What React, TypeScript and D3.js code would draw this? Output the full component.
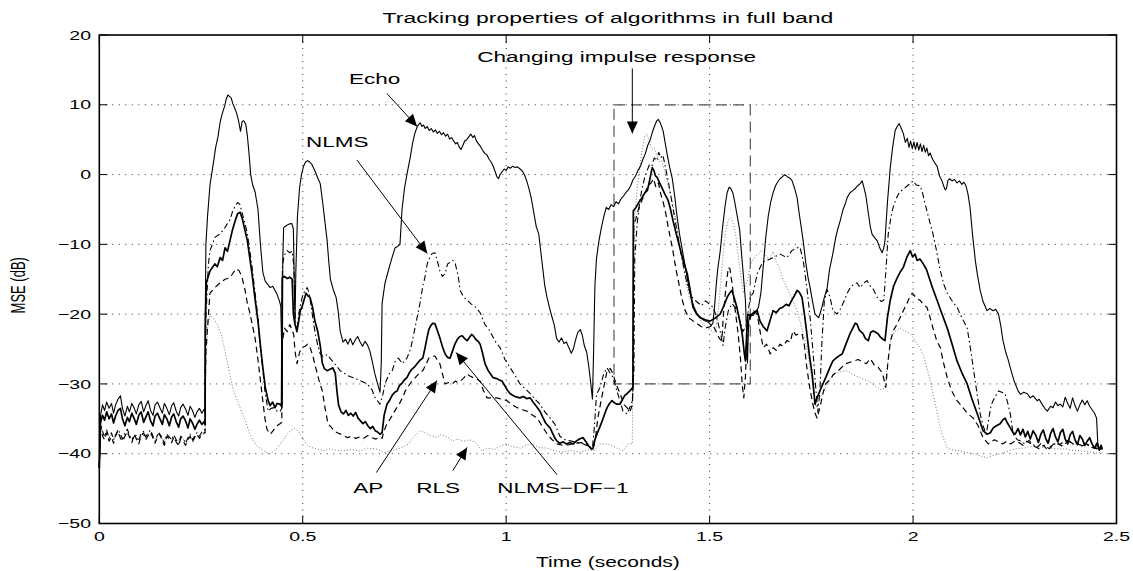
import React from "react";
import * as d3 from "d3";

// ---- Axis settings ----
const xTicks = [0, 0.5, 1, 1.5, 2, 2.5];
const xTickLabels = ["0", "0.5", "1", "1.5", "2", "2.5"];
const yTicks = [-50, -40, -30, -20, -10, 0, 10, 20];
const yTickLabels = ["−50", "−40", "−30", "−20", "−10", "0", "10", "20"];

// ---- Opening segment (shared time base, seconds) ----
const startTime = [0, 0.003, 0.008, 0.013, 0.018, 0.024, 0.03, 0.035, 0.04, 0.046, 0.052, 0.057, 0.063, 0.069, 0.074, 0.08, 0.086, 0.091, 0.097, 0.103, 0.109, 0.114, 0.12, 0.126, 0.132, 0.137, 0.143, 0.149, 0.155, 0.16, 0.166, 0.172, 0.178, 0.183, 0.189, 0.195, 0.2, 0.206, 0.212, 0.218, 0.223, 0.229, 0.235, 0.24, 0.246, 0.252, 0.258];
const echoStart = [-42, -34.5, -33, -33.8, -32.6, -33.5, -32.8, -34.2, -33, -32.2, -31.7, -33.5, -34.6, -33.2, -34, -32.8, -33.5, -34.3, -33, -32.5, -34, -33.2, -32.4, -33.8, -34.5, -33, -32.6, -33.4, -34.2, -32.8, -33.5, -34.4, -33.1, -32.7, -33.9, -34.6, -33.4, -32.9, -33.6, -34.5, -33.2, -33.8, -34.8, -34, -33.5, -34.2, -33.6];
const dfStart = [-42, -35.5, -34.5, -35.2, -34, -35, -34.3, -35.6, -34.6, -33.8, -33.5, -35, -36, -34.8, -35.4, -34.2, -35, -35.8, -34.5, -34, -35.5, -34.8, -34, -35.3, -36, -34.6, -34.2, -35, -35.8, -34.4, -35, -36, -34.7, -34.3, -35.4, -36.2, -35, -34.6, -35.3, -36.3, -35, -35.6, -36.5, -35.8, -35.2, -35.8, -35.4];
const apStart = [-42, -36, -37.5, -38, -37, -38.2, -37.6, -38.5, -37.3, -36.8, -37.8, -38.2, -37.5, -36.8, -37.6, -38.4, -37.2, -37.9, -38.6, -37.4, -37, -38, -37.4, -36.9, -37.8, -38.5, -37.6, -37.2, -38.2, -38.8, -37.5, -37.9, -38.4, -37.6, -38.3, -38.9, -37.8, -38.2, -38.8, -38, -37.5, -38.3, -37.6, -37.2, -37.8, -37.2, -37];
const nlmsStart = [-42, -35.5, -36.8, -37.6, -36.6, -37.8, -37, -38, -37.5, -36.5, -37.2, -37.9, -37, -36.5, -37.3, -38, -37.5, -37.4, -38.2, -37, -36.8, -37.6, -37, -36.6, -37.5, -38.2, -37.3, -37, -37.8, -38.5, -37.2, -37.6, -38, -37.3, -38, -38.6, -37.5, -37.8, -38.5, -37.7, -37.2, -38, -37.4, -37, -37.5, -36.9, -36.6];
const rlsStart = [-42, -36, -37, -37.4, -37.1, -37.5, -37.3, -37.8, -37.5, -37.2, -37.4, -37.7, -37.5, -37.2, -37.5, -37.9, -37.6, -37.7, -38, -37.6, -37.4, -37.7, -37.5, -37.3, -37.6, -37.9, -37.6, -37.4, -37.8, -38, -37.6, -37.7, -37.9, -37.6, -37.9, -38.1, -37.8, -37.9, -38.2, -37.9, -37.7, -37.9, -37.6, -37.4, -37.6, -37.3, -37.2];

// ---- Remainder of each curve: [time (s), MSE (dB)] ----
const echoRest: [number, number][] = [
  [0.26, -33.8], [0.2605, -20], [0.262, -10], [0.266, -6], [0.272, -1.5], [0.28, 1.5], [0.286, 3.9], [0.292, 5.5], [0.297, 7.5], [0.302, 8.7], [0.308, 9.8], [0.312, 10.8], [0.316, 11.4], [0.32, 11.2], [0.324, 11], [0.328, 10.2], [0.333, 9.5], [0.338, 8.7], [0.343, 7.5], [0.347, 6.2], [0.351, 7.6], [0.355, 7.7], [0.36, 7.2], [0.364, 5.5], [0.368, 3], [0.372, 0], [0.377, -1.5], [0.383, -2.5], [0.39, -5], [0.396, -10], [0.402, -14], [0.408, -15.3], [0.415, -15.8], [0.42, -16.2], [0.426, -16], [0.432, -16.6], [0.437, -17.2], [0.442, -18], [0.446, -18.8], [0.448, -24], [0.4495, -33], [0.451, -12], [0.453, -7.6], [0.46, -7.3], [0.466, -7.1], [0.473, -7], [0.477, -7.8], [0.479, -15], [0.481, -21], [0.483, -14], [0.487, -6], [0.492, -2], [0.497, 0], [0.502, 1.2], [0.507, 1.8], [0.512, 2], [0.517, 1.8], [0.522, 1.5], [0.53, 0.5], [0.537, -0.5], [0.543, -1.3], [0.549, -4], [0.555, -7], [0.56, -9.5], [0.564, -12.5], [0.568, -15], [0.575, -16.5], [0.582, -17.6], [0.587, -19.5], [0.592, -22.4], [0.599, -24], [0.605, -23.6], [0.611, -24.3], [0.617, -23.5], [0.623, -24.4], [0.629, -23.7], [0.635, -23.2], [0.641, -24], [0.647, -24.6], [0.653, -23.9], [0.659, -24.4], [0.665, -25.3], [0.671, -26.8], [0.677, -28.5], [0.684, -30], [0.69, -31.2], [0.693, -27], [0.695, -18.5], [0.702, -15.6], [0.707, -14.5], [0.715, -12.8], [0.72, -11.8], [0.727, -10.5], [0.733, -10.3], [0.739, -10], [0.744, -5], [0.75, -2], [0.756, 0], [0.764, 2.4], [0.77, 4.5], [0.776, 6], [0.781, 6.8], [0.785, 7.2], [0.789, 7.4], [0.793, 6.9], [0.797, 7.1], [0.801, 6.6], [0.806, 6.9], [0.811, 6.3], [0.816, 6.6], [0.821, 6.1], [0.826, 6.4], [0.831, 5.9], [0.836, 6.2], [0.841, 5.7], [0.846, 6], [0.851, 5.5], [0.856, 5.8], [0.861, 5.1], [0.866, 5.3], [0.871, 4.8], [0.876, 4.4], [0.88, 4.6], [0.885, 3.9], [0.889, 3.6], [0.893, 4.1], [0.898, 4.8], [0.903, 5], [0.908, 5.4], [0.913, 5.8], [0.918, 5.3], [0.922, 5.6], [0.927, 4.8], [0.932, 4.4], [0.937, 4], [0.943, 3.4], [0.948, 3], [0.953, 2.8], [0.958, 2.2], [0.963, 1.8], [0.968, 1.2], [0.973, 0.4], [0.977, -0.3], [0.981, -0.6], [0.985, 0], [0.99, 0.4], [0.995, 0.8], [1.0, 0.6], [1.005, 1.1], [1.01, 0.9], [1.016, 1.2], [1.022, 1], [1.028, 1.1], [1.034, 0.8], [1.04, 0.5], [1.046, -0.2], [1.051, -1], [1.056, -2], [1.062, -3.5], [1.068, -5.5], [1.074, -7.5], [1.08, -8.5], [1.085, -11], [1.09, -13.5], [1.095, -16], [1.1, -17.5], [1.106, -19], [1.112, -20.3], [1.118, -21.5], [1.124, -23.5], [1.13, -24], [1.136, -23.4], [1.142, -24.2], [1.148, -24], [1.154, -24.8], [1.16, -25.6], [1.165, -25], [1.17, -23.8], [1.176, -22.6], [1.182, -22.2], [1.187, -23], [1.192, -24.5], [1.198, -25.5], [1.203, -27.5], [1.208, -30], [1.212, -32.2], [1.215, -25], [1.218, -16], [1.222, -12], [1.228, -9.5], [1.234, -7.6], [1.24, -6], [1.246, -4.7], [1.252, -5], [1.258, -4.3], [1.264, -4.6], [1.27, -3.9], [1.276, -4.2], [1.282, -3.5], [1.288, -3.1], [1.294, -2.6], [1.3, -2.2], [1.306, -1.6], [1.312, -0.7], [1.318, -0.2], [1.324, 0.6], [1.33, 1.2], [1.336, 2.2], [1.342, 3], [1.348, 4.2], [1.354, 5], [1.36, 6.2], [1.365, 7], [1.37, 7.7], [1.374, 7.9], [1.378, 7.5], [1.382, 6.9], [1.386, 6.2], [1.39, 4.8], [1.396, 2.8], [1.402, 1], [1.408, -0.5], [1.414, -3], [1.42, -6], [1.426, -8.5], [1.432, -10.5], [1.438, -12.5], [1.444, -14.5], [1.45, -16.5], [1.456, -18], [1.462, -19], [1.468, -19.8], [1.474, -20.3], [1.48, -20.6], [1.486, -20.9], [1.492, -21], [1.498, -21.2], [1.504, -21.6], [1.508, -21.3], [1.512, -19], [1.516, -16], [1.52, -13.5], [1.526, -11], [1.532, -7.5], [1.538, -4.5], [1.543, -2.6], [1.548, -1.8], [1.552, -2], [1.557, -2.6], [1.562, -4], [1.568, -6], [1.574, -8], [1.578, -11], [1.583, -14.5], [1.588, -18], [1.591, -23], [1.593, -27], [1.596, -21], [1.6, -20], [1.607, -20.2], [1.614, -19.6], [1.62, -19], [1.626, -17], [1.632, -13], [1.638, -9], [1.644, -6], [1.65, -4], [1.656, -2.6], [1.662, -1.6], [1.668, -1], [1.673, -0.6], [1.679, -0.3], [1.685, 0], [1.691, -0.3], [1.697, -0.5], [1.702, -0.8], [1.709, -2], [1.715, -3.3], [1.72, -5.5], [1.725, -7.5], [1.73, -9.5], [1.736, -12.5], [1.742, -14.8], [1.747, -16.2], [1.753, -18.2], [1.759, -20], [1.764, -20.3], [1.768, -20.5], [1.772, -19.8], [1.776, -19], [1.782, -17.6], [1.789, -16.2], [1.795, -13.5], [1.803, -11.3], [1.81, -9], [1.815, -7.8], [1.821, -6.6], [1.828, -5], [1.834, -4.1], [1.838, -3.3], [1.845, -2.6], [1.852, -2.3], [1.858, -2], [1.864, -1.6], [1.87, -1.3], [1.875, -0.9], [1.879, -1.8], [1.884, -3], [1.89, -5.5], [1.895, -7.5], [1.899, -8.5], [1.905, -9], [1.912, -9.5], [1.918, -10.5], [1.924, -11.2], [1.928, -10.5], [1.931, -9.5], [1.937, -4], [1.944, 1], [1.95, 4], [1.956, 6.3], [1.962, 7], [1.966, 7.3], [1.971, 6.6], [1.976, 5.9], [1.981, 4.6], [1.986, 5.2], [1.99, 3.9], [1.994, 4.8], [1.998, 3.7], [2.002, 4.7], [2.006, 3.6], [2.01, 4.6], [2.014, 3.5], [2.018, 4.4], [2.022, 3.3], [2.026, 4.2], [2.03, 3.2], [2.034, 3.8], [2.038, 2.7], [2.042, 3.1], [2.048, 2.2], [2.054, 1.6], [2.059, 1.2], [2.065, -0.2], [2.071, -0.9], [2.075, -1.6], [2.079, -2.2], [2.082, -2], [2.086, -0.8], [2.09, -0.6], [2.096, -0.9], [2.102, -0.7], [2.108, -1.2], [2.114, -0.9], [2.12, -1.4], [2.125, -1.1], [2.13, -1.6], [2.135, -2.8], [2.14, -4.7], [2.146, -8.5], [2.153, -12.3], [2.158, -14.3], [2.165, -16.6], [2.172, -18.2], [2.182, -19.5], [2.188, -19.2], [2.197, -19.5], [2.203, -19.3], [2.21, -20], [2.216, -21.8], [2.221, -23.8], [2.228, -25.5], [2.234, -26.6], [2.239, -27.7], [2.248, -29.5], [2.258, -31], [2.264, -31.5], [2.272, -31.2], [2.281, -31.4], [2.288, -32], [2.295, -31.7], [2.305, -32.4], [2.31, -32.2], [2.318, -33], [2.325, -33.6], [2.33, -33.9], [2.338, -33.2], [2.344, -33.4], [2.35, -32.6], [2.356, -33.1], [2.362, -32.9], [2.368, -33.3], [2.374, -31.9], [2.38, -32.8], [2.386, -33.5], [2.392, -32], [2.398, -33.1], [2.404, -33.9], [2.41, -33], [2.416, -32.3], [2.422, -33], [2.428, -32.4], [2.434, -33.2], [2.44, -33.7], [2.446, -34.2], [2.451, -34.9], [2.454, -38.5], [2.458, -39.5], [2.462, -39], [2.465, -39.4],
];

const dfRest: [number, number][] = [
  [0.26, -35.8], [0.2605, -22], [0.263, -15.5], [0.272, -13.8], [0.284, -12.8], [0.29, -13.2], [0.297, -11.9], [0.303, -12.3], [0.309, -10.5], [0.315, -11], [0.321, -9.5], [0.327, -8], [0.334, -6.6], [0.34, -5.6], [0.346, -5.4], [0.351, -6.2], [0.358, -8], [0.364, -9.5], [0.37, -12], [0.376, -14.5], [0.382, -17.5], [0.39, -21], [0.396, -24.5], [0.402, -27.7], [0.408, -30.5], [0.415, -32.4], [0.42, -33.1], [0.426, -32.6], [0.432, -33.4], [0.437, -32.8], [0.444, -32.9], [0.448, -33.2], [0.4495, -14.8], [0.455, -14.6], [0.462, -14.9], [0.468, -14.7], [0.474, -15], [0.477, -20], [0.481, -21.5], [0.486, -22.4], [0.49, -21], [0.494, -19.5], [0.498, -19], [0.503, -18], [0.508, -17], [0.513, -17.4], [0.518, -17.6], [0.524, -19], [0.53, -21], [0.537, -22.5], [0.543, -24.5], [0.548, -27], [0.553, -27.8], [0.56, -28.1], [0.567, -27.9], [0.574, -27.7], [0.58, -28.5], [0.584, -31], [0.588, -33], [0.594, -34], [0.6, -34.3], [0.606, -33.8], [0.612, -34.5], [0.618, -34.2], [0.624, -34.6], [0.63, -34.1], [0.636, -34.9], [0.642, -35.3], [0.648, -35.7], [0.654, -35.4], [0.66, -36], [0.666, -36.4], [0.672, -36.1], [0.678, -36.7], [0.684, -36.9], [0.69, -37.2], [0.695, -37], [0.7, -34.5], [0.707, -32.9], [0.714, -32.3], [0.72, -31.6], [0.726, -31.2], [0.732, -31], [0.738, -30.2], [0.744, -29.9], [0.75, -29.4], [0.756, -29.1], [0.762, -28.4], [0.768, -27.9], [0.774, -27.6], [0.781, -27.1], [0.788, -26.6], [0.795, -26.3], [0.8, -25], [0.805, -23.5], [0.81, -22.2], [0.815, -21.6], [0.82, -21.3], [0.825, -21.4], [0.83, -22.2], [0.837, -23.4], [0.843, -24.6], [0.85, -25.7], [0.856, -26.2], [0.862, -26.3], [0.868, -25.3], [0.874, -24.3], [0.88, -23.6], [0.886, -23.2], [0.892, -23.1], [0.898, -23.5], [0.904, -23.8], [0.91, -23.3], [0.915, -22.9], [0.919, -23.1], [0.925, -23.6], [0.931, -23.9], [0.936, -24.3], [0.942, -25.6], [0.948, -27.1], [0.955, -28], [0.962, -28.6], [0.968, -29.1], [0.975, -29.2], [0.982, -29.4], [0.99, -29.6], [0.997, -30.3], [1.003, -30.9], [1.01, -31.4], [1.018, -31.7], [1.026, -31.9], [1.034, -32], [1.042, -31.8], [1.05, -32.1], [1.059, -32], [1.066, -32.6], [1.074, -33.2], [1.083, -33.9], [1.09, -34.8], [1.097, -35.6], [1.103, -36], [1.108, -36.3], [1.115, -37.2], [1.12, -37.8], [1.125, -38.2], [1.132, -38.5], [1.14, -38.3], [1.148, -38.6], [1.156, -38.4], [1.165, -38.6], [1.172, -38.2], [1.18, -37.9], [1.189, -37.7], [1.196, -38.3], [1.203, -38.9], [1.209, -39.3], [1.213, -39.3], [1.218, -38], [1.223, -37.2], [1.23, -36.2], [1.236, -35.3], [1.242, -34.3], [1.248, -33.4], [1.254, -32.8], [1.26, -32.4], [1.266, -32.7], [1.272, -32.9], [1.28, -32.9], [1.286, -32.2], [1.292, -31.6], [1.297, -31.4], [1.304, -31], [1.3115, -30.5], [1.3125, -5.2], [1.318, -4.8], [1.324, -4.2], [1.329, -3.7], [1.335, -3.2], [1.341, -2.6], [1.347, -2.3], [1.352, -1], [1.356, 0.2], [1.359, 1], [1.363, 0.6], [1.367, -0.2], [1.371, -0.4], [1.377, -1.2], [1.383, -1.9], [1.39, -2.8], [1.398, -3.7], [1.404, -5], [1.41, -6.6], [1.418, -8.5], [1.427, -10.5], [1.436, -12.5], [1.445, -14.2], [1.452, -16.5], [1.459, -19], [1.468, -20], [1.477, -20.5], [1.489, -20.8], [1.501, -21], [1.513, -20.6], [1.526, -20], [1.535, -18.8], [1.543, -17.6], [1.549, -17], [1.555, -16.6], [1.561, -17.8], [1.567, -19], [1.574, -21], [1.58, -22.8], [1.585, -25.5], [1.588, -26.7], [1.591, -23], [1.594, -20], [1.6, -20.2], [1.608, -19.8], [1.617, -19.5], [1.624, -21], [1.632, -21.8], [1.641, -22.4], [1.648, -21], [1.656, -19.5], [1.664, -19.8], [1.672, -19.2], [1.68, -19], [1.688, -18.6], [1.695, -18.8], [1.702, -18], [1.708, -17.4], [1.715, -16.6], [1.721, -16.9], [1.727, -17.6], [1.733, -20], [1.739, -22.8], [1.745, -25.8], [1.752, -28.6], [1.756, -31], [1.759, -32.9], [1.764, -32], [1.771, -31], [1.78, -29.8], [1.789, -28.6], [1.796, -27.6], [1.803, -26.7], [1.813, -26.2], [1.82, -25.9], [1.826, -25.7], [1.835, -24.3], [1.845, -22.8], [1.852, -22], [1.858, -21.3], [1.862, -21.4], [1.868, -22.3], [1.877, -22.8], [1.883, -23.5], [1.89, -23.8], [1.896, -22.6], [1.902, -22.4], [1.908, -22.6], [1.914, -22.8], [1.92, -23.3], [1.926, -23.6], [1.931, -23.8], [1.937, -20.5], [1.944, -18], [1.952, -16], [1.961, -14.8], [1.968, -14], [1.976, -13.3], [1.985, -11.8], [1.993, -10.9], [1.999, -11.8], [2.005, -11.4], [2.01, -12.3], [2.017, -12.1], [2.025, -12.8], [2.033, -13.6], [2.042, -15.2], [2.05, -16.6], [2.059, -18], [2.07, -19.8], [2.084, -22], [2.096, -24.3], [2.108, -26.7], [2.12, -28.4], [2.133, -30], [2.145, -32.2], [2.158, -34.3], [2.165, -35.5], [2.172, -36.7], [2.182, -37.2], [2.19, -37], [2.197, -36.3], [2.205, -36], [2.214, -35.7], [2.22, -35.2], [2.226, -34.9], [2.232, -35.6], [2.239, -36.3], [2.246, -37], [2.251, -37.2], [2.258, -36.4], [2.264, -37.3], [2.27, -36.5], [2.276, -37.6], [2.282, -36.8], [2.288, -37.9], [2.295, -36.7], [2.302, -37.4], [2.308, -38.4], [2.314, -37.2], [2.32, -36.6], [2.326, -37.8], [2.332, -38.5], [2.338, -37.1], [2.344, -36.4], [2.35, -37.6], [2.356, -38.3], [2.362, -37], [2.368, -36.5], [2.374, -37.9], [2.38, -38.6], [2.386, -37.3], [2.392, -36.8], [2.398, -38], [2.404, -38.7], [2.41, -37.4], [2.416, -37.9], [2.422, -38.8], [2.428, -38.2], [2.434, -37.7], [2.44, -38.6], [2.446, -39.2], [2.452, -38.5], [2.458, -39.5], [2.462, -38.8], [2.465, -39.3],
];

const apRest: [number, number][] = [
  [0.26, -37], [0.2605, -30], [0.262, -25.3], [0.272, -17], [0.284, -16.2], [0.297, -15.5], [0.309, -15], [0.321, -14.8], [0.33, -14], [0.337, -13.5], [0.344, -13.8], [0.351, -14.8], [0.358, -16.5], [0.364, -18.5], [0.37, -19.8], [0.376, -21.5], [0.383, -23.5], [0.39, -26.5], [0.396, -29.5], [0.402, -32.5], [0.407, -34.9], [0.412, -36.5], [0.42, -37.2], [0.426, -36.8], [0.432, -36.3], [0.437, -36], [0.444, -35.7], [0.4485, -35.5], [0.45, -24], [0.455, -22], [0.462, -22.5], [0.468, -21.5], [0.474, -22.3], [0.478, -23], [0.481, -25.3], [0.486, -27.1], [0.492, -25.5], [0.498, -24.8], [0.506, -24.6], [0.512, -24.3], [0.518, -24.8], [0.525, -26], [0.532, -27.7], [0.54, -29.5], [0.548, -31], [0.555, -33.5], [0.562, -35.7], [0.57, -36.2], [0.577, -36.7], [0.585, -37], [0.593, -37.2], [0.6, -37.4], [0.61, -37.7], [0.62, -37.5], [0.63, -37.8], [0.64, -37.6], [0.65, -37.8], [0.66, -37.4], [0.67, -37.7], [0.68, -37.9], [0.69, -37.6], [0.695, -37.8], [0.7, -36.7], [0.707, -35.7], [0.715, -35], [0.722, -34.3], [0.73, -33.5], [0.737, -32.9], [0.745, -32], [0.752, -31], [0.76, -30.3], [0.768, -29.6], [0.775, -29.2], [0.781, -28.8], [0.788, -28.4], [0.795, -28.1], [0.802, -27.3], [0.81, -26.3], [0.818, -26.1], [0.825, -26], [0.83, -26.5], [0.837, -27.1], [0.843, -28.5], [0.85, -30], [0.858, -29.8], [0.867, -30], [0.875, -29.6], [0.882, -29.8], [0.887, -29.6], [0.895, -29.2], [0.904, -28.6], [0.912, -28.9], [0.919, -29.1], [0.928, -29.3], [0.936, -29.6], [0.943, -30.8], [0.953, -32], [0.965, -32], [0.977, -32], [0.99, -32.2], [1.002, -32.4], [1.015, -33], [1.027, -33.4], [1.04, -33.7], [1.051, -33.9], [1.063, -34.4], [1.076, -34.9], [1.088, -36], [1.101, -37.2], [1.113, -38], [1.125, -38.6], [1.14, -38.8], [1.155, -38.7], [1.17, -38.5], [1.185, -38.4], [1.2, -38.8], [1.21, -39.3], [1.215, -39], [1.22, -37.5], [1.225, -35], [1.23, -33.4], [1.238, -31], [1.248, -28.1], [1.256, -27.8], [1.263, -28.6], [1.27, -30], [1.28, -31.4], [1.29, -33], [1.297, -33.4], [1.304, -34], [1.31, -33], [1.312, -30], [1.3135, -7], [1.318, -6.5], [1.324, -5.2], [1.33, -4.2], [1.337, -3.2], [1.344, -2.2], [1.35, -1.5], [1.356, -1.2], [1.362, -0.6], [1.368, -1.8], [1.374, -1.2], [1.38, -2.8], [1.386, -4], [1.392, -5.5], [1.398, -7.5], [1.404, -9.2], [1.41, -11], [1.417, -13.5], [1.424, -15.5], [1.432, -17.8], [1.44, -19.5], [1.45, -20.6], [1.46, -21], [1.47, -21.4], [1.48, -21.8], [1.49, -22], [1.5, -21.8], [1.508, -21.5], [1.516, -22.5], [1.524, -23.5], [1.53, -23.8], [1.534, -20], [1.54, -16.2], [1.546, -13.3], [1.55, -13.5], [1.556, -16], [1.562, -19], [1.57, -22.8], [1.576, -26.5], [1.58, -30], [1.584, -32], [1.588, -29], [1.592, -22.8], [1.6, -20.5], [1.608, -19.5], [1.617, -20], [1.625, -22.8], [1.632, -24.8], [1.64, -24.3], [1.649, -25.7], [1.656, -24.8], [1.664, -25.2], [1.673, -24.3], [1.68, -24.6], [1.69, -23.8], [1.698, -24], [1.705, -22.4], [1.712, -23], [1.72, -22.8], [1.727, -22.8], [1.733, -24.5], [1.739, -27.7], [1.746, -30.5], [1.752, -32.4], [1.758, -34], [1.764, -34.9], [1.771, -33.4], [1.778, -31.5], [1.785, -30], [1.796, -29.4], [1.805, -28.6], [1.815, -28.2], [1.825, -27.6], [1.835, -27.1], [1.845, -26.9], [1.855, -26.7], [1.865, -26.5], [1.875, -26.8], [1.885, -27.1], [1.895, -26.4], [1.905, -27.3], [1.914, -27.6], [1.925, -28.5], [1.933, -30.5], [1.938, -27], [1.944, -24], [1.951, -22.4], [1.96, -21.5], [1.968, -20.5], [1.976, -19.5], [1.984, -18.6], [1.992, -17.5], [1.998, -17], [2.004, -17.4], [2.01, -17.8], [2.017, -18], [2.025, -18.6], [2.034, -19], [2.042, -20.5], [2.049, -22], [2.058, -23.8], [2.067, -24.8], [2.075, -27], [2.084, -29.1], [2.095, -31], [2.108, -32.4], [2.12, -33.2], [2.133, -34.2], [2.148, -34.9], [2.16, -36], [2.172, -37.7], [2.185, -38.6], [2.19, -38.4], [2.2, -38], [2.21, -38.3], [2.22, -38.6], [2.23, -38.2], [2.24, -38.6], [2.25, -38.2], [2.26, -38.4], [2.27, -38.8], [2.28, -38.2], [2.29, -38.6], [2.3, -39], [2.31, -39.3], [2.32, -38.8], [2.33, -39.4], [2.34, -38.9], [2.35, -38.4], [2.36, -38.7], [2.37, -38.3], [2.38, -38.1], [2.39, -38.5], [2.4, -38.3], [2.41, -38.8], [2.42, -38.5], [2.43, -38.7], [2.44, -39], [2.45, -39.3], [2.46, -39.1], [2.465, -39.4],
];

const nlmsRest: [number, number][] = [
  [0.26, -36.5], [0.2605, -28], [0.262, -20.5], [0.268, -13], [0.272, -10.9], [0.284, -9], [0.297, -8.5], [0.309, -7.6], [0.315, -7], [0.321, -6.5], [0.328, -5.2], [0.334, -4.5], [0.34, -4], [0.346, -4.3], [0.351, -5.5], [0.358, -7], [0.364, -8.5], [0.37, -10.9], [0.376, -13.5], [0.383, -17], [0.39, -20.5], [0.395, -24.3], [0.402, -28], [0.407, -31], [0.415, -33.9], [0.422, -33.5], [0.43, -33.4], [0.437, -33.9], [0.444, -34], [0.4485, -33.5], [0.45, -13], [0.455, -11.5], [0.462, -10.9], [0.468, -11.2], [0.474, -11], [0.478, -13], [0.481, -20], [0.485, -22.8], [0.49, -20], [0.495, -18.5], [0.5, -17.3], [0.506, -16.6], [0.511, -16.2], [0.516, -17], [0.522, -19.5], [0.53, -22.5], [0.537, -24.5], [0.543, -25.7], [0.55, -26.1], [0.56, -25.8], [0.567, -26.3], [0.574, -26.8], [0.584, -27.5], [0.592, -28.1], [0.6, -28.4], [0.61, -28.8], [0.624, -29.1], [0.64, -29.5], [0.658, -30], [0.67, -30.8], [0.678, -32], [0.69, -32.9], [0.697, -31.5], [0.702, -30], [0.712, -28.6], [0.72, -28.1], [0.727, -26.8], [0.735, -26.3], [0.745, -27.1], [0.756, -26.3], [0.765, -25], [0.773, -22.8], [0.781, -20.5], [0.788, -18.5], [0.795, -16], [0.8, -14.8], [0.806, -12.8], [0.812, -11.9], [0.818, -11.3], [0.825, -11.2], [0.83, -12.2], [0.837, -13.8], [0.843, -14.6], [0.85, -14.2], [0.856, -12.8], [0.862, -12.6], [0.869, -12.3], [0.875, -12.8], [0.882, -14.5], [0.887, -16.6], [0.895, -17.5], [0.904, -18], [0.915, -18.6], [0.925, -19], [0.936, -19.8], [0.948, -21.5], [0.96, -22.4], [0.972, -23.8], [0.985, -24.8], [0.997, -26.5], [1.01, -27.7], [1.022, -28.8], [1.034, -30], [1.047, -30.7], [1.059, -31.4], [1.071, -32.2], [1.083, -32.9], [1.095, -34], [1.108, -34.9], [1.12, -35.8], [1.132, -37.5], [1.145, -38], [1.16, -38.2], [1.175, -38.4], [1.19, -38.6], [1.205, -39], [1.212, -39.2], [1.217, -36], [1.222, -31.5], [1.23, -30.6], [1.24, -28.5], [1.248, -27.7], [1.256, -28.5], [1.263, -29.1], [1.272, -31], [1.28, -32.5], [1.287, -33.9], [1.297, -34.3], [1.305, -33.2], [1.31, -32.4], [1.314, -28], [1.316, -12], [1.322, -7], [1.328, -4], [1.334, -2], [1.34, -0.5], [1.346, 0.5], [1.352, 1.4], [1.358, 1.2], [1.364, 2.4], [1.37, 2], [1.375, 3.2], [1.38, 2.4], [1.385, 2.8], [1.39, 1.5], [1.395, 0], [1.4, -1.5], [1.406, -3.5], [1.412, -5.5], [1.418, -7.5], [1.424, -9.5], [1.43, -11.5], [1.437, -13.5], [1.444, -15.5], [1.452, -17], [1.46, -17.8], [1.47, -18.3], [1.48, -18.8], [1.49, -18.1], [1.5, -18.6], [1.508, -19], [1.516, -20.2], [1.526, -22.5], [1.533, -24.5], [1.538, -22], [1.546, -19.5], [1.555, -18.5], [1.565, -19.2], [1.575, -21], [1.582, -22.5], [1.59, -21.6], [1.6, -17.5], [1.607, -17], [1.617, -14.2], [1.63, -12.6], [1.641, -12.3], [1.656, -11.9], [1.673, -11.4], [1.69, -11.9], [1.702, -10.9], [1.715, -10.5], [1.722, -10.4], [1.73, -12.3], [1.739, -16.2], [1.747, -20.5], [1.754, -25.3], [1.76, -30], [1.766, -34], [1.771, -31], [1.776, -24], [1.782, -18], [1.789, -16.5], [1.796, -17.6], [1.803, -19.5], [1.813, -20], [1.821, -19.3], [1.83, -18.2], [1.838, -17], [1.846, -16.2], [1.853, -15.8], [1.862, -15.5], [1.87, -16.2], [1.878, -15.6], [1.887, -15.2], [1.895, -16], [1.902, -16.4], [1.912, -17.6], [1.922, -18.2], [1.928, -18], [1.933, -14], [1.939, -8.5], [1.946, -6], [1.951, -4.7], [1.958, -3.5], [1.966, -2.6], [1.976, -2.1], [1.986, -1.6], [1.993, -1.3], [2.0, -0.9], [2.008, -1.5], [2.017, -1.6], [2.022, -2.3], [2.028, -3.8], [2.034, -5.2], [2.042, -7], [2.049, -8.5], [2.058, -11], [2.067, -13.8], [2.076, -15.8], [2.084, -17], [2.097, -18.2], [2.108, -19], [2.12, -20.5], [2.133, -22], [2.14, -24.5], [2.148, -27.7], [2.155, -30.5], [2.165, -34.3], [2.172, -36], [2.18, -37.2], [2.186, -35], [2.192, -33], [2.2, -32], [2.21, -31], [2.218, -31.2], [2.226, -31.4], [2.233, -32.8], [2.239, -34.3], [2.246, -37.2], [2.256, -38], [2.265, -38.2], [2.275, -38.6], [2.285, -38.1], [2.295, -38.7], [2.305, -39.1], [2.315, -38.5], [2.325, -38.9], [2.335, -39.3], [2.345, -38.7], [2.355, -38.4], [2.365, -38.9], [2.375, -38.5], [2.385, -38.2], [2.395, -38.7], [2.405, -38.4], [2.415, -38.9], [2.425, -38.6], [2.435, -39], [2.445, -39.2], [2.455, -38.9], [2.465, -39.4],
];

const rlsRest: [number, number][] = [
  [0.26, -37], [0.262, -28], [0.266, -22], [0.272, -20.2], [0.28, -20.5], [0.29, -21.5], [0.3, -23], [0.31, -25.5], [0.32, -28.5], [0.33, -31], [0.34, -32.5], [0.35, -34], [0.36, -35.5], [0.37, -37.2], [0.38, -38.3], [0.39, -39], [0.4, -39.4], [0.41, -39.8], [0.42, -40], [0.43, -39.6], [0.44, -39], [0.45, -38.2], [0.46, -37.3], [0.47, -36.7], [0.48, -36.4], [0.49, -36.8], [0.5, -37.8], [0.51, -38.7], [0.52, -39.1], [0.535, -39.3], [0.55, -39.6], [0.565, -39.3], [0.58, -39.5], [0.6, -39.6], [0.62, -39.4], [0.64, -39.6], [0.66, -39.2], [0.68, -39.3], [0.7, -39.8], [0.72, -39.5], [0.74, -39.2], [0.76, -38.6], [0.771, -37.7], [0.788, -36.7], [0.8, -37], [0.81, -37.3], [0.83, -37.7], [0.84, -37.2], [0.855, -37.6], [0.869, -38.2], [0.88, -37.9], [0.895, -38.2], [0.91, -38], [0.925, -38.4], [0.94, -39.6], [0.955, -39.2], [0.97, -39.4], [0.99, -38.8], [1.0, -38.6], [1.015, -39], [1.035, -39.2], [1.05, -38.7], [1.066, -38.6], [1.08, -39.1], [1.1, -39.2], [1.12, -39.6], [1.14, -39.8], [1.16, -39.5], [1.18, -39.8], [1.2, -39.4], [1.215, -39.6], [1.23, -38.6], [1.25, -38.6], [1.272, -39.2], [1.287, -39.6], [1.3, -38.6], [1.31, -38.6], [1.312, -22], [1.316, -6], [1.322, -2], [1.328, 1], [1.334, 3.5], [1.34, 5.5], [1.346, 5.8], [1.352, 4.9], [1.358, 3.5], [1.364, 3.8], [1.37, 2.8], [1.376, 1.8], [1.382, 2], [1.39, 0.5], [1.398, -1.5], [1.405, -3], [1.412, -5], [1.42, -7.5], [1.428, -10.5], [1.435, -13], [1.442, -15.5], [1.45, -17.5], [1.459, -19], [1.468, -20], [1.477, -20.8], [1.486, -21.6], [1.494, -22], [1.503, -22.3], [1.51, -22.6], [1.516, -22], [1.522, -19], [1.528, -15], [1.534, -11], [1.54, -8], [1.546, -6.5], [1.552, -6.2], [1.558, -7], [1.565, -9], [1.572, -12.5], [1.578, -15], [1.583, -17], [1.588, -16], [1.594, -15], [1.6, -13], [1.606, -12.2], [1.613, -11.7], [1.62, -11.4], [1.627, -10.8], [1.634, -11.2], [1.641, -11.9], [1.649, -12], [1.656, -11], [1.664, -12.5], [1.673, -13.5], [1.68, -15], [1.69, -16.2], [1.702, -17.8], [1.715, -19.5], [1.73, -22.8], [1.74, -25], [1.747, -27.7], [1.755, -31], [1.762, -33.4], [1.768, -32.5], [1.776, -31.4], [1.789, -30], [1.803, -28.6], [1.82, -28.3], [1.838, -28.1], [1.85, -28.6], [1.87, -29.1], [1.89, -29.6], [1.905, -30.2], [1.92, -30.8], [1.93, -30.6], [1.938, -27], [1.946, -23.5], [1.955, -22.5], [1.968, -22], [1.98, -22.4], [1.993, -22.8], [2.005, -23.8], [2.017, -24.8], [2.026, -26], [2.034, -27.7], [2.042, -29.5], [2.049, -31.4], [2.058, -33.8], [2.067, -36.3], [2.076, -38], [2.084, -39.2], [2.1, -39.5], [2.116, -39.6], [2.13, -39.8], [2.148, -40], [2.165, -40.3], [2.182, -40.6], [2.2, -40.2], [2.214, -40], [2.23, -39.7], [2.25, -39.3], [2.27, -39.2], [2.288, -39], [2.305, -38.9], [2.32, -39.1], [2.337, -39.2], [2.355, -39.3], [2.375, -39.3], [2.39, -39.5], [2.41, -39.6], [2.43, -39.7], [2.452, -39.9], [2.465, -39.8],
];

// Window where the echo path changes: [t0, t1] x [v0, v1]
const boxTime = [1.265, 1.6];
const boxLevel = [-30, 10];

const withStart = (vals: number[], rest: [number, number][]): [number, number][] =>
  [...startTime.map((t, i) => [t, vals[i]] as [number, number]).filter((d) => d[1] !== undefined), ...rest];

const series = [
  { name: "RLS", data: withStart(rlsStart, rlsRest), stroke: "#7a7a7a", width: 1, dash: "1,2" },
  { name: "AP", data: withStart(apStart, apRest), stroke: "#000", width: 1.2, dash: "6,4" },
  { name: "NLMS", data: withStart(nlmsStart, nlmsRest), stroke: "#000", width: 1.1, dash: "6,3,1.5,3" },
  { name: "NLMS-DF-1", data: withStart(dfStart, dfRest), stroke: "#000", width: 1.7, dash: undefined },
  { name: "Echo", data: withStart(echoStart, echoRest), stroke: "#000", width: 1.1, dash: undefined },
];

// Labels with pointer arrows, positioned in data units
const annotations = [
  { text: "Echo", at: [0.614, 13.0], from: [0.707, 11.6], to: [0.781, 6.9] },
  { text: "NLMS", at: [0.508, 3.9], from: [0.633, 2.1], to: [0.806, -11.3] },
  { text: "AP", at: [0.624, -45.7], from: [0.681, -42.7], to: [0.83, -29.5] },
  { text: "RLS", at: [0.779, -45.7], from: [0.869, -42.4], to: [0.904, -39.1] },
  { text: "NLMS−DF−1", at: [0.978, -45.7], from: [1.125, -43], to: [0.877, -25.5] },
  { text: "Changing impulse response", at: [0.929, 16.1], from: [1.31, 15.2], to: [1.31, 5.9] },
];

const FONT = "'Liberation Sans', Arial, Helvetica, sans-serif";
const SX = 1.5;

function WideText({ x, y, size, anchor = "start", children }: any) {
  return (
    <text
      transform={`translate(${x},${y}) scale(${SX},1)`}
      fontFamily={FONT}
      fontSize={size}
      textAnchor={anchor}
      fill="#000"
    >
      {children}
    </text>
  );
}

export default function App() {
  const W = 1133;
  const H = 571;
  const x = d3.scaleLinear().domain([0, 2.5]).range([99.3, 1116.5]);
  const y = d3.scaleLinear().domain([-50, 20]).range([523.5, 35]);
  const line = d3
    .line<[number, number]>()
    .x((d) => x(d[0]))
    .y((d) => y(d[1]));

  const [x0, x1] = x.range();
  const [yb, yt] = y.range();
  const tickLen = 8;

  const arrowHead = (fx: number, fy: number, tx: number, ty: number) => {
    const ang = Math.atan2(ty - fy, tx - fx);
    const L = 12;
    const hw = 5.5;
    const bx = tx - L * Math.cos(ang);
    const by = ty - L * Math.sin(ang);
    const px = -Math.sin(ang) * hw;
    const py = Math.cos(ang) * hw;
    return `M${tx},${ty} L${bx + px},${by + py} L${bx - px},${by - py} Z`;
  };

  return (
    <>
      <style>{"body{margin:0;background:#fff}"}</style>
      <svg width={W} height={H} style={{ display: "block", background: "#fff" }}>
        {/* grid */}
        <g stroke="#333" strokeWidth={1} strokeDasharray="1,5.5">
          {xTicks.slice(1, -1).map((t) => (
            <line key={"gx" + t} x1={x(t)} x2={x(t)} y1={yb} y2={yt} />
          ))}
          {yTicks.slice(1, -1).map((v) => (
            <line key={"gy" + v} x1={x0} x2={x1} y1={y(v)} y2={y(v)} />
          ))}
        </g>

        {/* changing-impulse-response window */}
        <rect
          x={x(boxTime[0])}
          y={y(boxLevel[1])}
          width={x(boxTime[1]) - x(boxTime[0])}
          height={y(boxLevel[0]) - y(boxLevel[1])}
          fill="none"
          stroke="#555"
          strokeWidth={1.2}
          strokeDasharray="11,6"
        />

        {/* curves */}
        <g fill="none" strokeLinejoin="round">
          {series.map((s) => (
            <path
              key={s.name}
              d={line(s.data) || ""}
              stroke={s.stroke}
              strokeWidth={s.width}
              strokeDasharray={s.dash}
            />
          ))}
        </g>

        {/* axes box and ticks */}
        <rect x={x0} y={yt} width={x1 - x0} height={yb - yt} fill="none" stroke="#000" strokeWidth={1.6} />
        <g stroke="#000" strokeWidth={1}>
          {xTicks.map((t) => (
            <g key={"tx" + t}>
              <line x1={x(t)} x2={x(t)} y1={yb} y2={yb - tickLen} />
              <line x1={x(t)} x2={x(t)} y1={yt} y2={yt + tickLen} />
            </g>
          ))}
          {yTicks.map((v) => (
            <g key={"ty" + v}>
              <line x1={x0} x2={x0 + tickLen} y1={y(v)} y2={y(v)} />
              <line x1={x1} x2={x1 - tickLen} y1={y(v)} y2={y(v)} />
            </g>
          ))}
        </g>

        {/* tick labels */}
        {xTicks.map((t, i) => (
          <WideText key={"lx" + t} x={x(t)} y={540.5} size={13} anchor="middle">
            {xTickLabels[i]}
          </WideText>
        ))}
        {yTicks.map((v, i) => (
          <WideText key={"ly" + v} x={91} y={y(v) + 4.7} size={13} anchor="end">
            {yTickLabels[i]}
          </WideText>
        ))}

        {/* titles */}
        <WideText x={(x0 + x1) / 2} y={22.5} size={15.3} anchor="middle">
          Tracking properties of algorithms in full band
        </WideText>
        <WideText x={(x0 + x1) / 2} y={567} size={14} anchor="middle">
          Time (seconds)
        </WideText>
        <text
          transform={`translate(25,${(yt + yb) / 2 + 6}) rotate(-90) scale(1,${SX})`}
          fontFamily={FONT}
          fontSize={13}
          textAnchor="middle"
          fill="#000"
        >
          MSE (dB)
        </text>

        {/* annotations */}
        {annotations.map((a) => {
          const fx = x(a.from[0]);
          const fy = y(a.from[1]);
          const tx = x(a.to[0]);
          const ty = y(a.to[1]);
          return (
            <g key={a.text}>
              <WideText x={x(a.at[0])} y={y(a.at[1])} size={15}>
                {a.text}
              </WideText>
              <line x1={fx} y1={fy} x2={tx} y2={ty} stroke="#000" strokeWidth={1} />
              <path d={arrowHead(fx, fy, tx, ty)} fill="#000" />
            </g>
          );
        })}
      </svg>
    </>
  );
}
